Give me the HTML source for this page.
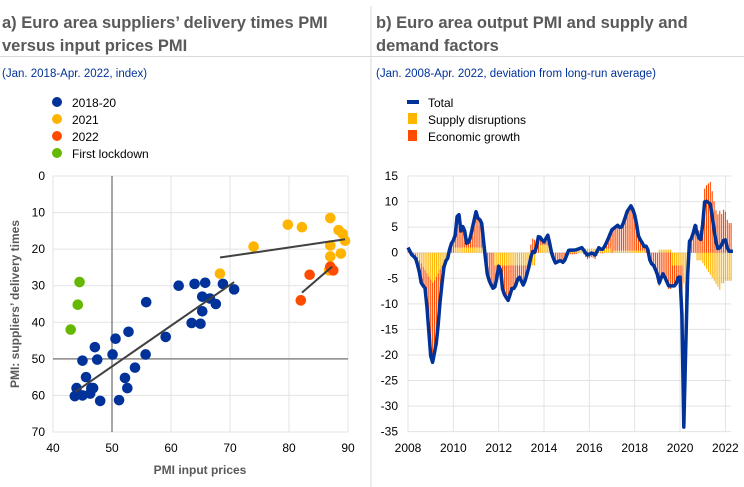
<!DOCTYPE html>
<html><head><meta charset="utf-8"><style>
body{margin:0;background:#fff;width:744px;height:487px;overflow:hidden;font-family:"Liberation Sans",sans-serif}
svg{position:absolute;left:0;top:0}
</style></head><body>
<svg width="744" height="487" xmlns="http://www.w3.org/2000/svg" font-family="Liberation Sans, sans-serif">
<line x1="371" y1="6" x2="371" y2="487" stroke="#d9d9d9"/>
<line x1="0" y1="56.5" x2="744" y2="56.5" stroke="#d9d9d9"/>
<g font-size="16.5" font-weight="bold" fill="#595959">
<text x="2" y="28">a) Euro area suppliers’ delivery times PMI</text>
<text x="2" y="51">versus input prices PMI</text>
<text x="376" y="28">b) Euro area output PMI and supply and</text>
<text x="376" y="51">demand factors</text>
</g>
<g font-size="11.5" fill="#003299">
<text x="2" y="77">(Jan. 2018-Apr. 2022, index)</text>
<text x="376" y="77">(Jan. 2008-Apr. 2022, deviation from long-run average)</text>
</g>
<g font-size="12" fill="#000">
<circle cx="57" cy="102" r="5" fill="#003299"/><text x="72" y="107">2018-20</text>
<circle cx="57" cy="119" r="5" fill="#ffb400"/><text x="72" y="124">2021</text>
<circle cx="57" cy="136" r="5" fill="#ff4b00"/><text x="72" y="141">2022</text>
<circle cx="57" cy="153" r="5" fill="#65b800"/><text x="72" y="158">First lockdown</text>
<rect x="407" y="100" width="12" height="4" fill="#003299"/><text x="428" y="107">Total</text>
<rect x="408" y="113" width="9" height="11" fill="#ffb400"/><text x="428" y="124">Supply disruptions</text>
<rect x="408" y="130" width="9" height="11" fill="#ff4b00"/><text x="428" y="141">Economic growth</text>
</g>
<g id="left"></g>
<g id="right"></g>
</svg>
<script>
const NS="http://www.w3.org/2000/svg";
function el(p,t,a,txt){const e=document.createElementNS(NS,t);for(const k in a)e.setAttribute(k,a[k]);if(txt!==undefined)e.textContent=txt;p.appendChild(e);return e;}
const L=document.getElementById("left");
const X=v=>53+(v-40)*5.9, Y=v=>176+v*3.657;
for(let v=40;v<=90;v+=10){el(L,"line",{x1:X(v),y1:176,x2:X(v),y2:432,stroke:"#e3e3e3"});el(L,"text",{x:X(v),y:452,"font-size":12,"text-anchor":"middle"},v);}
for(let v=0;v<=70;v+=10){el(L,"line",{x1:53,y1:Y(v),x2:348,y2:Y(v),stroke:"#e3e3e3"});el(L,"text",{x:45,y:Y(v)+4,"font-size":12,"text-anchor":"end"},v);}
el(L,"line",{x1:X(50),y1:176,x2:X(50),y2:432,stroke:"#888","stroke-width":1.5});
el(L,"line",{x1:53,y1:Y(50),x2:348,y2:Y(50),stroke:"#888","stroke-width":1.5});
el(L,"text",{x:200,y:474,"font-size":12,"font-weight":"bold",fill:"#595959","text-anchor":"middle"},"PMI input prices");
el(L,"text",{x:0,y:0,"font-size":12,"font-weight":"bold",fill:"#595959","text-anchor":"middle",transform:"translate(19,304) rotate(-90)"},"PMI: suppliers’ delivery times");
const blue=[[43.7,60.2],[44,58],[45,60],[45,50.5],[45.6,55],[46.3,59.5],[46.5,58],[46.8,58],[47.1,46.8],[47.5,50.2],[48,61.5],[50.1,48.8],[50.6,44.5],[51.2,61.3],[52.2,55.2],[52.6,58],[52.8,42.6],[53.9,52.4],[55.7,48.8],[55.8,34.5],[59.1,44],[61.3,30],[63.5,40.2],[64,29.5],[65,40.4],[65.3,33],[65.3,37],[65.8,29.2],[66.6,33.5],[67.6,35],[68.8,29.5],[70.7,31]];
const green=[[44.5,29],[44.2,35.2],[43,42]];
const yel=[[68.3,26.7],[74,19.3],[79.8,13.3],[82.2,14],[87,11.5],[88.4,14.8],[89.1,15.8],[89.5,17.7],[87,19],[87,22],[88.8,21.2],[86.8,25.8]];
const ora=[[82,34],[83.5,27],[87,24.8],[87.5,25.8]];
[[blue,"#003299"],[green,"#65b800"],[yel,"#ffb400"],[ora,"#ff4b00"]].forEach(([a,c])=>a.forEach(p=>el(L,"circle",{cx:X(p[0]),cy:Y(p[1]),r:5.3,fill:c})));
[[43.8,59,70.7,29],[68.3,22.3,89.5,17.3],[82.2,31.9,87.3,24.8]].forEach(l=>el(L,"line",{x1:X(l[0]),y1:Y(l[1]),x2:X(l[2]),y2:Y(l[3]),stroke:"#404040","stroke-width":2}));
const R=document.getElementById("right");
const TX=t=>408+(t-2008)*22.67, VY=v=>252.7-5.113*v;
for(let y=2008;y<=2022;y+=2){el(R,"line",{x1:TX(y),y1:176,x2:TX(y),y2:432,stroke:"#e3e3e3"});el(R,"text",{x:TX(y),y:452,"font-size":12,"text-anchor":"middle"},y);}
for(let v=15;v>=-35;v-=5){el(R,"line",{x1:408,y1:VY(v),x2:731,y2:VY(v),stroke:"#e3e3e3"});el(R,"text",{x:398,y:VY(v)+4,"font-size":12,"text-anchor":"end"},v);}
const K=[[108,1],[120,-0.5],[130,-1],[140,-3],[148,-6],[160,-7],[168,-13],[175,-20],[182,-21.5],[195,-17],[205,-9],[215,-3],[222,-1.5],[228,-1],[235,1.5],[245,2.5],[250,3.5],[255,7],[260,8.3],[265,4],[275,5.5],[285,1.3],[295,3],[305,6],[313,8.3],[320,6],[327,7],[335,2],[345,-4],[352,-5.5],[362,-7],[372,-6.5],[378,-2.5],[385,-3],[392,-7.5],[400,-8.5],[410,-9.5],[418,-7],[428,-7],[440,-4.5],[455,-6.5],[470,-3],[480,0.3],[490,0],[500,3.5],[515,2],[528,3.5],[540,-0.5],[550,-2],[565,-1.5],[575,-2],[590,0.5],[610,0.5],[630,1],[645,-0.5],[660,0],[670,-0.5],[680,1],[690,0.5],[700,1.5],[710,3],[720,4.5],[740,5.5],[745,4.5],[755,6],[765,8],[778,9.3],[790,7],[800,3],[810,2],[818,1],[825,1.5],[835,-2],[845,-2.5],[855,-4],[862,-6],[872,-4],[880,-5],[890,-6.5],[900,-6.5],[910,-6.5],[920,-4.5],[928,-5],[935,-35],[945,-8],[950,2],[960,3],[970,5.5],[978,3],[988,2.5],[998,10.2],[1005,10],[1015,9.5],[1025,5],[1035,0.8],[1045,1],[1055,2.5],[1060,2.5],[1068,0.3],[1075,0.3]].map(p=>[2008+(p[0]-108)/68,p[1]]);
function tot(t){for(let i=1;i<K.length;i++)if(t<=K[i][0]){const a=K[i-1],b=K[i];return a[1]+(b[1]-a[1])*(t-a[0])/(b[0]-a[0]);}return K[K.length-1][1];}
function sup(t){
 if(t<2008.3)return 0; if(t<2009.1)return -6*(t-2008.3)/0.8; if(t<2009.8)return -6*(2009.8-t)/0.7;
 if(t<2011.5&&t>2010)return 1; if(t>2011.8&&t<2013.6)return -2.5; if(t>2013.8&&t<2014.3)return 1.5;
 if(t>2015&&t<2017)return 0.8; if(t>2017&&t<2018.5)return 0.4; if(t>2019&&t<2019.6)return 0.6;
 if(t>2019.6&&t<2020.15)return -2.5; if(t>=2020.15&&t<2020.3)return -6; if(t>2020.7&&t<2021)return -1.5;
 if(t>=2021&&t<2021.8)return -2-7*(t-2021); if(t>=2021.8&&t<2022)return -6; if(t>=2022)return -5.5; return 0;}
for(let m=0;m<172;m++){const t=2008+m/12,T=tot(t);let s=sup(t);if(T<-30)s=-6;const g=T-s;const x=TX(t)-0.5;
 const sy0=VY(0),sy1=VY(s);el(R,"rect",{x:x,y:Math.min(sy0,sy1),width:1.1,height:Math.abs(sy1-sy0),fill:"#ffb400"});
 let base=(Math.sign(g)===Math.sign(s))?s:0; if(T<-30)continue;
 const oy0=VY(base),oy1=VY(base+g);el(R,"rect",{x:x,y:Math.min(oy0,oy1),width:1.1,height:Math.abs(oy1-oy0),fill:"#ff4b00"});}
let d="";for(let m=0;m<=172;m++){const t=2008+m/12;d+=(m?"L":"M")+TX(t).toFixed(1)+","+VY(tot(t)).toFixed(1);}
el(R,"path",{d:d,fill:"none",stroke:"#003299","stroke-width":3.5,"stroke-linejoin":"round"});
</script>
</body></html>
